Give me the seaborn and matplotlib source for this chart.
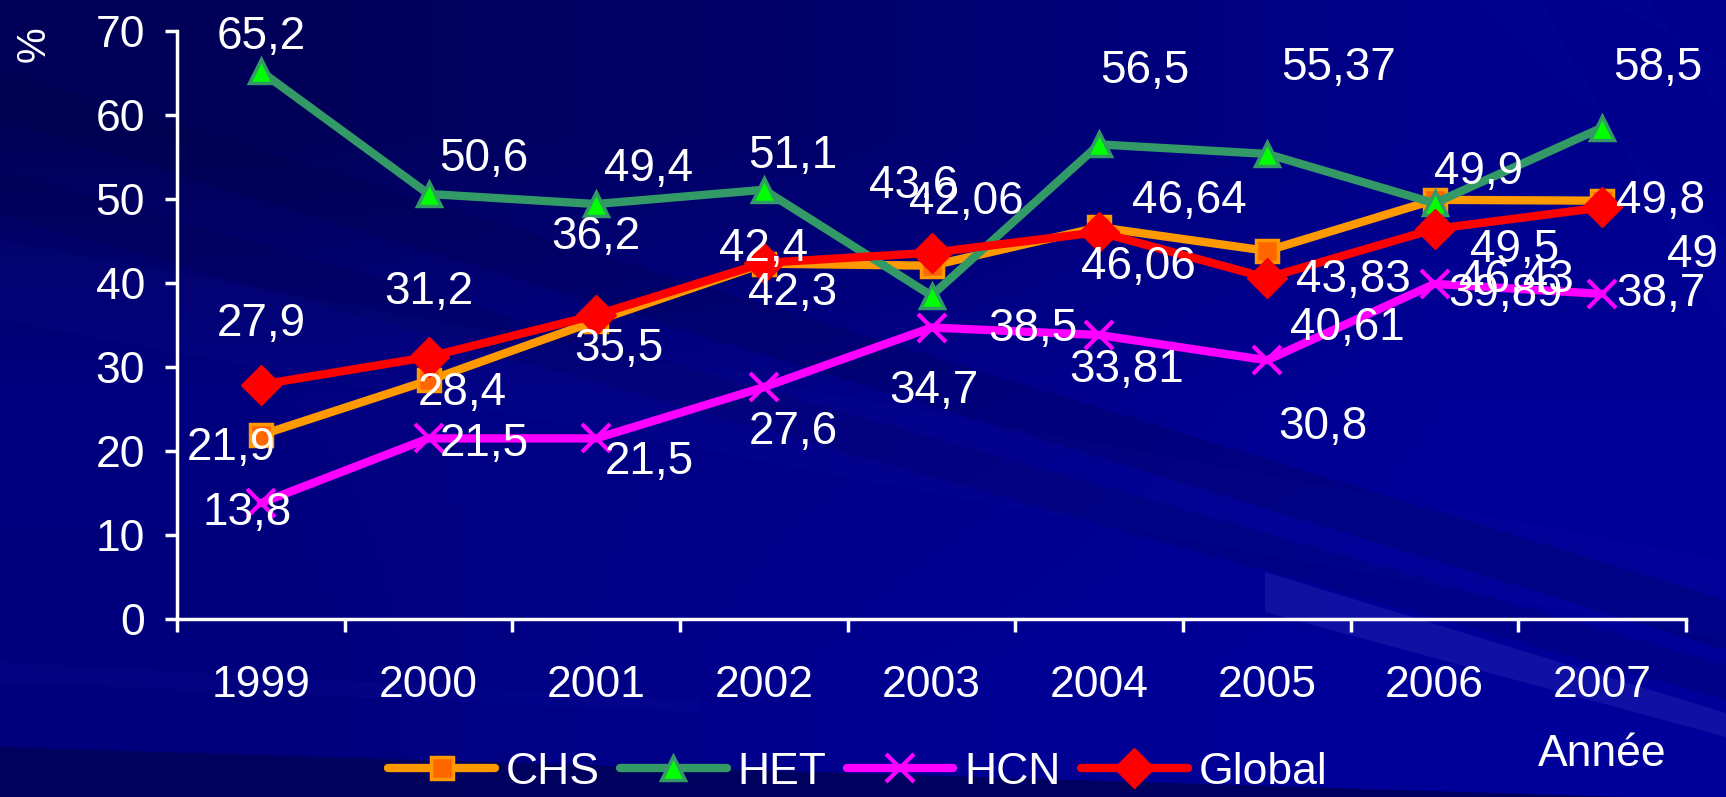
import numpy as np
import pandas as pd
import matplotlib.pyplot as plt
import seaborn as sns
from matplotlib.patches import Polygon
from matplotlib.ticker import FixedLocator, NullFormatter

years = [1999, 2000, 2001, 2002, 2003, 2004, 2005, 2006, 2007]
chs = [21.9, 28.4, 35.5, 42.3, 42.06, 46.64, 43.83, 49.9, 49.8]
het = [65.2, 50.6, 49.4, 51.1, 38.5, 56.5, 55.37, 49.5, 58.5]
hcn = [13.8, 21.5, 21.5, 27.6, 34.7, 33.81, 30.8, 39.89, 38.7]
glob = [27.9, 31.2, 36.2, 42.4, 43.6, 46.06, 40.61, 46.43, 49]

# where each value label sits relative to its point (points)
chs_off = [(-21, -9), (24, -9), (16, -20), (21, -21), (25, 46), (65, 19), (62, -21), (32, 20), (42, 0)]
het_off = [(0, 25), (40, 25), (38, 25), (21, 24), (73, -24), (33, 53), (52, 62), (58, -34), (40, 43)]
hcn_off = [(-10, -7), (40, -4), (38, -17), (21, -32), (2, -46), (20, -25), (40, -48), (51, -7), (42, 0)]
glob_off = [(0, 44), (0, 47), (0, 56), (0, 10), (-13, 48), (28, -25), (58, -36), (59, -37), (65, -34)]

sns.set_style('white')
plt.rcParams['font.family'] = ['Liberation Sans', 'DejaVu Sans']

W, H = 1726, 797
fig = plt.figure(figsize=(W / 100, H / 100), dpi=100)


def px(x, y):
    return (x / W, 1 - y / H)


# background: dark blue gradient with diagonal streaks
bg = fig.add_axes([0, 0, 1, 1], zorder=-10)
grad = np.array([
    [[0, 0, 0x58], [0, 0, 0x6C], [0, 0, 0x8C]],
    [[0, 0, 0x80], [0, 0, 0x88], [0, 0, 0x96]],
    [[0, 0, 0x7C], [0, 0, 0x90], [0, 0, 0x9A]],
]) / 255
bg.imshow(grad, extent=(0, 1, 0, 1), aspect='auto', interpolation='bilinear')
streaks = [
    ([(0, 70), (0, 120), (1726, 650), (1726, 600)], '#000040', 0.22),
    ([(0, 170), (0, 215), (1726, 700), (1726, 665)], '#000040', 0.18),
    ([(0, 240), (0, 320), (1726, 640), (1726, 560)], '#2020B0', 0.08),
    ([(1265, 572), (1265, 612), (1726, 737), (1726, 713)], '#3030B8', 0.35),
    ([(0, 662), (0, 682), (700, 712), (700, 700)], '#1818A8', 0.15),
    ([(1480, 0), (1540, 0), (1726, 330), (1726, 240)], '#1818B8', 0.10),
    ([(1600, 0), (1650, 0), (1726, 120), (1726, 60)], '#1818B8', 0.10),
    ([(0, 747), (1726, 800), (1726, 797), (0, 797)], '#00005A', 0.9),
]
for pts, col, a in streaks:
    bg.add_patch(Polygon([px(x, y) for x, y in pts], closed=True,
                         facecolor=col, edgecolor='none', alpha=a))
bg.set_xlim(0, 1)
bg.set_ylim(0, 1)
bg.axis('off')

ax = fig.add_axes([177 / W, 1 - 619 / H, (1686 - 177) / W, (619 - 31) / H])
ax.set_facecolor('none')

series = [
    ('CHS', chs, chs_off, dict(color='#FF9900', marker='s', markersize=16,
                               markerfacecolor='#FF6600', markeredgecolor='#FF9900', markeredgewidth=2.5)),
    ('HET', het, het_off, dict(color='#339966', marker='^', markersize=17,
                               markerfacecolor='#00FF00', markeredgecolor='#339966', markeredgewidth=2.5)),
    ('HCN', hcn, hcn_off, dict(color='#FF00FF', marker='x', markersize=20,
                               markeredgecolor='#FF00FF', markeredgewidth=3)),
    ('Global', glob, glob_off, dict(color='#FF0000', marker='D', markersize=20,
                                    markerfacecolor='#FF0000', markeredgecolor='#FF0000', markeredgewidth=1)),
]

for name, vals, offs, style in series:
    df = pd.DataFrame({'year': years, 'value': vals})
    sns.lineplot(data=df, x='year', y='value', ax=ax, label=name, linewidth=6,
                 solid_capstyle='round', **style)

for name, vals, offs, style in series:
    for yr, v, (dx, dy) in zip(years, vals, offs):
        ax.annotate(f'{v:g}'.replace('.', ','), (yr, v), xytext=(dx, dy),
                    textcoords='offset points', ha='center', va='center',
                    color='white', fontsize=33, zorder=10)

ax.set_xlim(1998.5, 2007.5)
ax.set_ylim(0, 70)
ax.set_yticks(range(0, 71, 10))
ax.xaxis.set_major_locator(FixedLocator(np.arange(1998.5, 2008, 1)))
ax.xaxis.set_major_formatter(NullFormatter())
ax.set_xticks(years, labels=[str(y) for y in years], minor=True)
ax.tick_params(axis='x', which='minor', length=0, pad=33, labelsize=32, labelcolor='white')
ax.tick_params(axis='x', which='major', length=9, width=2.5, color='white', direction='out', bottom=True)
ax.tick_params(axis='y', length=9, width=2.5, color='white', direction='out', left=True,
               pad=14, labelsize=32, labelcolor='white')
ax.set_xlabel('')
ax.set_ylabel('')
sns.despine(ax=ax)
for side in ['left', 'bottom']:
    ax.spines[side].set_color('white')
    ax.spines[side].set_linewidth(2.5)

handles, labels = ax.get_legend_handles_labels()
ax.legend(handles, labels, loc='center', bbox_to_anchor=(0.497, 0.031),
          bbox_transform=fig.transFigure, ncol=4, frameon=False, fontsize=32,
          labelcolor='white', handlelength=2.4, handletextpad=0.25, columnspacing=0.45,
          borderpad=0.1)

fig.text(34 / W, 1 - 44 / H, '%', rotation=90, color='white', fontsize=29,
         ha='center', va='center')
fig.text(1602 / W, 1 - 755 / H, 'Année', color='white', fontsize=32,
         ha='center', va='center')

fig.savefig('out.png', dpi=100)
